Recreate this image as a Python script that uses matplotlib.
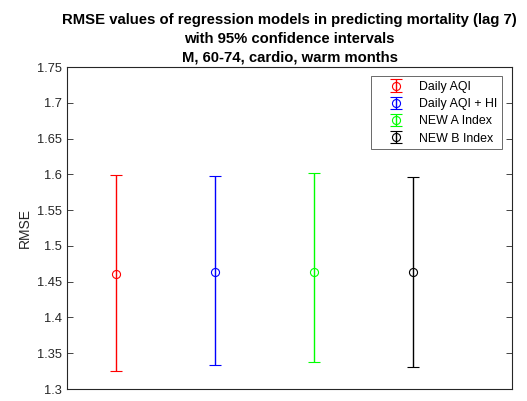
import matplotlib
matplotlib.use("Agg")
import matplotlib.pyplot as plt
import numpy as np

models = ["Daily AQI", "Daily AQI + HI", "NEW A Index", "NEW B Index"]
rmse = [1.461, 1.463, 1.464, 1.463]
ci_low = [1.325, 1.333, 1.338, 1.331]
ci_high = [1.599, 1.598, 1.602, 1.596]
colors = ["#ff0000", "#0000ff", "#00ff00", "#000000"]

plt.rcParams["font.family"] = ["Liberation Sans", "DejaVu Sans"]

fig = plt.figure(figsize=(5.27, 4.01), dpi=100)
ax = fig.add_axes([67/527, 1 - 389/401, 445/527, 322/401])

for i, (m, r, lo, hi, c) in enumerate(zip(models, rmse, ci_low, ci_high, colors)):
    ax.errorbar(i + 1, r, yerr=[[r - lo], [hi - r]], fmt="o", color=c,
                mfc="none", ms=5.8, mew=0.8, elinewidth=1.0, capsize=4.2,
                capthick=1.0, label=m)

ax.set_xlim(0.5, 5)
ax.set_ylim(1.3, 1.75)
yt = np.arange(1.3, 1.751, 0.05).round(2)
ax.set_yticks(yt)
ax.set_yticklabels([f"{v:g}" for v in yt])
ax.set_xticks([])
ax.tick_params(axis="y", direction="in", length=4, labelsize=9.3, right=True,
               colors="#262626", width=0.6)
for s in ax.spines.values():
    s.set_linewidth(0.8)
    s.set_color("#262626")
ax.set_ylabel("RMSE", fontsize=10, color="#262626")

ax.set_title("RMSE values of regression models in predicting mortality (lag 7)\n"
             "with 95% confidence intervals\nM, 60-74, cardio, warm months",
             fontsize=10.7, fontweight="bold", linespacing=1.42, pad=4)

leg = ax.legend(loc="upper right", bbox_to_anchor=(0.978, 0.972), fontsize=8.9,
                frameon=True, fancybox=False, edgecolor="#262626",
                borderaxespad=0, borderpad=0.4, handletextpad=0.25,
                labelspacing=0.42, handlelength=3.2)
leg.get_frame().set_linewidth(0.6)

fig.savefig("out.png", dpi=100)
